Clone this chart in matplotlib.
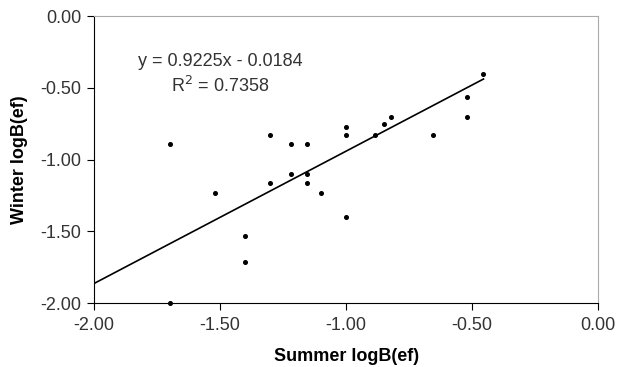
import numpy as np
import matplotlib.pyplot as plt

plt.rcParams['font.family'] = ['Liberation Sans', 'DejaVu Sans']

# Data
summer = [-1.70, -1.70, -1.52, -1.30, -1.30, -1.40, -1.40, -1.22, -1.22,
          -1.155, -1.155, -1.155, -1.10, -1.00, -1.00, -1.00, -0.885, -0.85,
          -0.82, -0.656, -0.52, -0.52, -0.455]
winter = [-0.89, -2.00, -1.23, -0.83, -1.16, -1.53, -1.71, -0.89, -1.10,
          -0.89, -1.10, -1.16, -1.23, -0.77, -0.83, -1.40, -0.83, -0.75,
          -0.70, -0.83, -0.56, -0.70, -0.40]
slope = 0.9225
intercept = -0.0184
r2 = 0.7358
ticks = [-2.0, -1.5, -1.0, -0.5, 0.0]

fig = plt.figure(figsize=(6.18, 3.67), dpi=100)
ax = fig.add_axes([0.152, 0.174, 0.816, 0.782])

ax.plot(summer, winter, 'o', color='black', markersize=2.6, zorder=3,
        clip_on=False)

# trendline
xl = np.array([-2.0, max(summer)])
ax.plot(xl, slope * xl + intercept, color='black', linewidth=1.2)

ax.set_xlim(-2.0, 0.0)
ax.set_ylim(-2.0, 0.0)
ax.set_xticks(ticks)
ax.set_yticks(ticks)
ax.set_xticklabels([f"{t:.2f}" for t in ticks])
ax.set_yticklabels([f"{t:.2f}" for t in ticks])
ax.tick_params(direction='out', length=5, labelsize=13, colors='black',
               labelcolor='#333333')
ax.tick_params(axis='x', pad=5)
ax.tick_params(axis='y', pad=4)

for s in ['top', 'right']:
    ax.spines[s].set_color('#aaaaaa')
for s in ['left', 'bottom']:
    ax.spines[s].set_color('black')

ax.set_xlabel("Summer logB(ef)", fontsize=13, fontweight='bold', labelpad=10)
ax.set_ylabel("Winter logB(ef)", fontsize=13, fontweight='bold', labelpad=9)

ax.text(-1.5, -0.314, f"y = {slope}x - {abs(intercept)}", ha='center',
        va='center', fontsize=13, color='#333333')
ax.text(-1.5, -0.488, f"R$^2$ = {r2}", ha='center', va='center',
        fontsize=13, color='#333333')

fig.savefig("out.png", dpi=100)
